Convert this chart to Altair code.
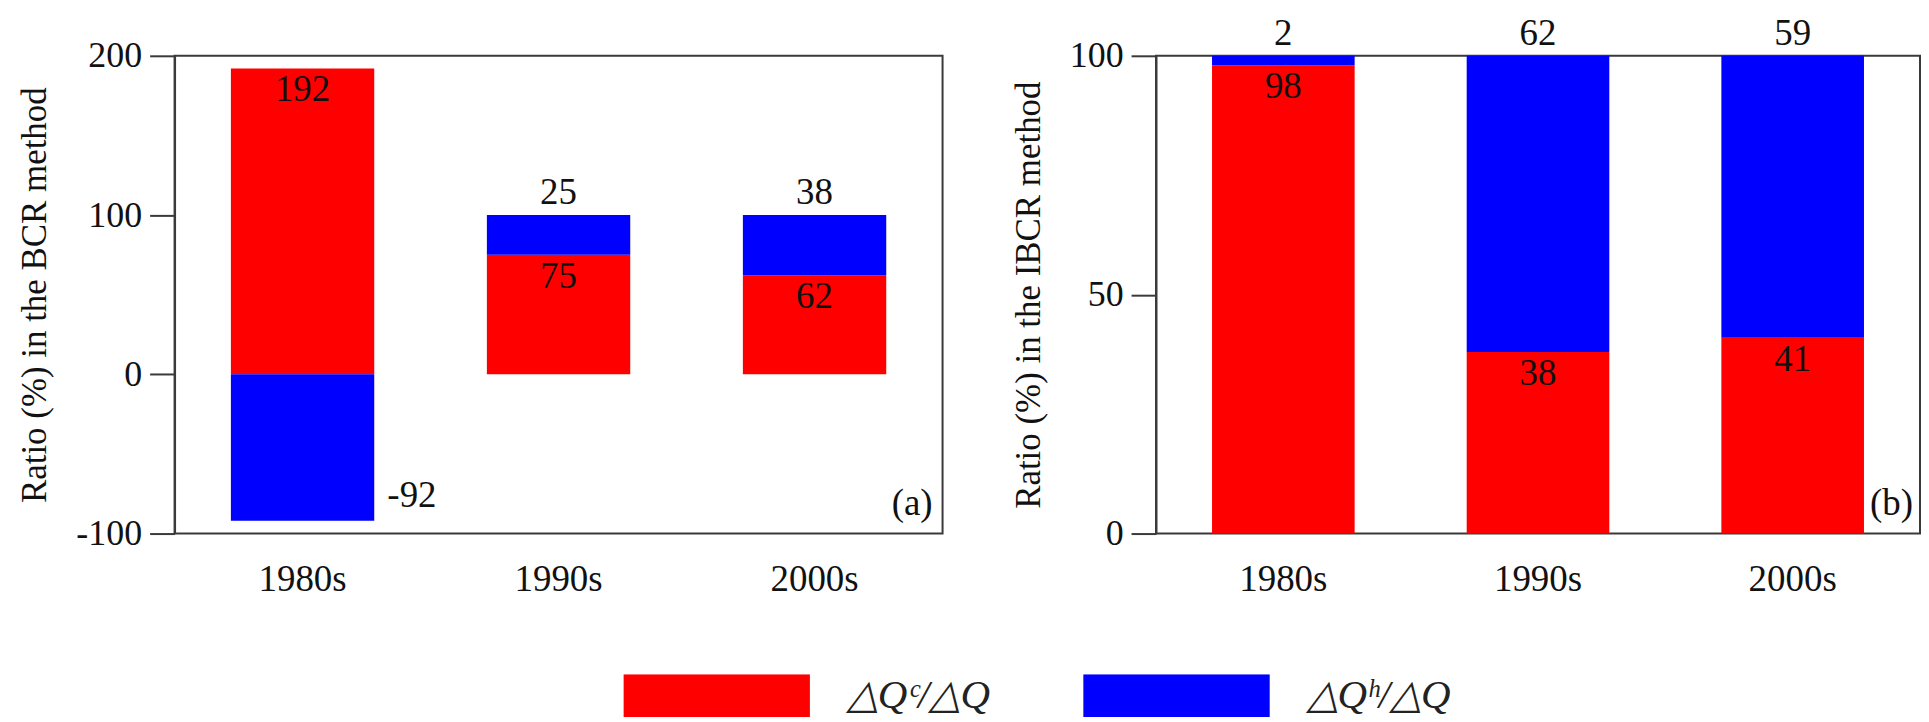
import altair as alt
import pandas as pd

decades = ["1980s", "1990s", "2000s"]
components = ["△Qᶜ/△Q", "△Qʰ/△Q"]
colors = ["#ff0000", "#0000ff"]
bcr_c = [192, 75, 62]
bcr_h = [-92, 25, 38]
ibcr_c = [98, 38, 41]
ibcr_h = [2, 62, 59]
bcr_ticks = [-100, 0, 100, 200]
ibcr_ticks = [0, 50, 100]

FONT = "Liberation Serif"


def make_df(c_vals, h_vals):
    rows = []
    for d, c, h in zip(decades, c_vals, h_vals):
        rows.append(dict(decade=d, comp=components[0], ord=0, value=c,
                         label_y=c, label=str(c)))
        rows.append(dict(decade=d, comp=components[1], ord=1, value=h,
                         label_y=(c + h) if h > 0 else h, label=str(h)))
    return pd.DataFrame(rows)


def panel(df, title, domain, ticks, w, h, tag, tag_dx):
    base = alt.Chart(df)
    x = alt.X("decade:N", sort=decades, title=None,
              scale=alt.Scale(paddingInner=0.44, paddingOuter=0.22),
              axis=alt.Axis(labelAngle=0, ticks=False, labelPadding=28, domain=False,
                            labelFontSize=37))
    yscale = alt.Scale(domain=domain, nice=False, zero=False)
    yaxis = alt.Axis(values=ticks, title=title, tickSize=25, labelPadding=8, titlePadding=23,
                     labelExpr="replace(datum.label, '\u2212', '-')")
    legend = alt.Legend(
        orient="none", legendX=450, legendY=620, direction="horizontal", title=None,
        symbolType="M-1,-0.23H1V0.23H-1Z", symbolSize=34969, clipHeight=43,
        labelOffset=37, columnPadding=91, labelFontSize=41, labelFont=FONT,
        labelFontStyle="italic", labelColor="#222", symbolStrokeWidth=0,
        symbolOpacity=1, labelLimit=0, padding=0)
    bars = base.mark_bar().encode(
        x=x,
        y=alt.Y("value:Q", stack="zero", scale=yscale, axis=yaxis, title=title),
        color=alt.Color("comp:N", scale=alt.Scale(domain=components, range=colors), legend=legend),
        order=alt.Order("ord:Q"),
    )
    txt = dict(font=FONT, fontSize=37, color="#111", baseline="middle")
    xe = alt.X("decade:N", sort=decades)
    ye = alt.Y("label_y:Q", title=title)
    lab_c = base.transform_filter(alt.datum.ord == 0).mark_text(dy=22, **txt).encode(
        x=xe, y=ye, text="label:N")
    lab_h = base.transform_filter((alt.datum.ord == 1) & (alt.datum.value > 0)).mark_text(
        dy=-22, **txt).encode(x=xe, y=ye, text="label:N")
    lab_n = base.transform_filter((alt.datum.ord == 1) & (alt.datum.value < 0)).mark_text(
        dy=-25, dx=85, align="left", **txt).encode(x=xe, y=ye, text="label:N")
    tag_layer = alt.Chart(pd.DataFrame({"tag": [tag]})).mark_text(
        align="right", **txt).encode(
        text="tag:N", x=alt.value(w - tag_dx), y=alt.value(h - 30))
    return alt.layer(bars, lab_c, lab_h, lab_n, tag_layer).properties(width=w, height=h)


left = panel(make_df(bcr_c, bcr_h), "Ratio (%) in the BCR method",
             [-100, 200], bcr_ticks, 770, 479, "(a)", 10)
right = panel(make_df(ibcr_c, ibcr_h), "Ratio (%) in the IBCR method",
              [0, 100], ibcr_ticks, 766, 479, "(b)", 7)

chart = alt.hconcat(left, right, spacing=214, bounds="flush").resolve_scale(
    y="independent", x="independent", color="shared"
).properties(
    padding={"left": 9, "top": 5, "right": 0, "bottom": 0}
).configure_view(
    stroke="#3a3a3a", strokeWidth=2
).configure_axis(
    labelFont=FONT, labelFontSize=36, labelColor="#111",
    titleFont=FONT, titleFontSize=35, titleFontWeight="normal", titleColor="#111",
    domainColor="#3a3a3a", tickColor="#3a3a3a", domainWidth=2, tickWidth=2, grid=False,
)

chart.save("out.html", embed_options={"renderer": "svg", "actions": False})
